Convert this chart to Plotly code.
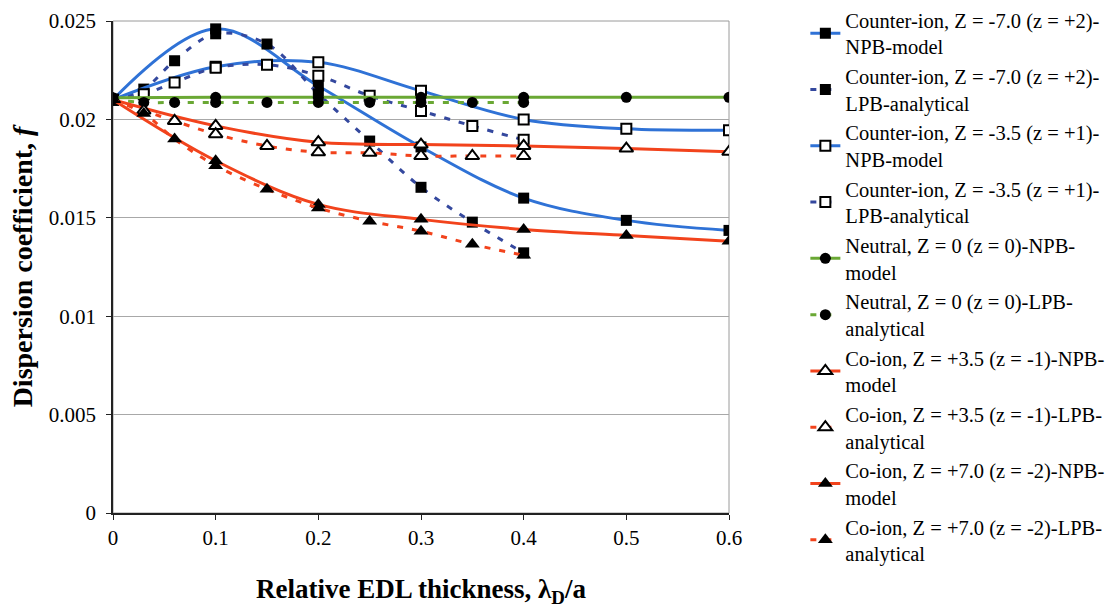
import plotly.graph_objects as go

# Relative EDL thickness values
x_npb = [0, 0.1, 0.2, 0.3, 0.4, 0.5, 0.6]
x_lpb = [0, 0.03, 0.06, 0.1, 0.15, 0.2, 0.25, 0.3, 0.35, 0.4]

# Dispersion coefficient f for each solute charge
counter7_npb = [0.0210, 0.0246, 0.0217, 0.0186, 0.0160, 0.01487, 0.01436]
counter7_lpb = [0.0210, 0.02154, 0.02298, 0.02435, 0.02383, 0.0213, 0.0189, 0.01655, 0.01478, 0.01322]
counter35_npb = [0.0210, 0.02267, 0.0229, 0.02145, 0.0200, 0.01952, 0.01945]
counter35_lpb = [0.0210, 0.02128, 0.02188, 0.02262, 0.02278, 0.02222, 0.0212, 0.02043, 0.01967, 0.01896]
neutral_npb = [0.02110, 0.02112, 0.02112, 0.02112, 0.02112, 0.02112, 0.02112]
neutral_lpb = [0.02100, 0.02086, 0.02086, 0.02086, 0.02086, 0.02086, 0.02086, 0.02086, 0.02086, 0.02086]
co35_npb = [0.0210, 0.01967, 0.01884, 0.01872, 0.01865, 0.01852, 0.01835]
co35_lpb = [0.0210, 0.02045, 0.01992, 0.01925, 0.01865, 0.01833, 0.0183, 0.01814, 0.01814, 0.01814]
co7_npb = [0.0210, 0.0179, 0.01568, 0.01492, 0.01441, 0.0141, 0.01381]
co7_lpb = [0.0210, 0.02030, 0.0190, 0.01765, 0.01645, 0.0155, 0.01483, 0.01432, 0.01365, 0.0131]

x_ticks = [0, 0.1, 0.2, 0.3, 0.4, 0.5, 0.6]
x_tick_text = ["0", "0.1", "0.2", "0.3", "0.4", "0.5", "0.6"]
y_ticks = [0, 0.005, 0.01, 0.015, 0.02, 0.025]
y_tick_text = ["0", "0.005", "0.01", "0.015", "0.02", "0.025"]

BLUE = "#2f72d6"
NAVY = "#34489e"
GREEN = "#6aa834"
RED = "#f2431c"
DASH = "6px,9px"
SERIF = "Liberation Serif"

series = [
    ("Counter-ion, Z = -7.0 (z = +2)-<br>NPB-model", x_npb, counter7_npb, BLUE, "solid", "square"),
    ("Counter-ion, Z = -7.0 (z = +2)-<br>LPB-analytical", x_lpb, counter7_lpb, NAVY, DASH, "square"),
    ("Counter-ion, Z = -3.5 (z = +1)-<br>NPB-model", x_npb, counter35_npb, BLUE, "solid", "square-open"),
    ("Counter-ion, Z = -3.5 (z = +1)-<br>LPB-analytical", x_lpb, counter35_lpb, NAVY, DASH, "square-open"),
    ("Neutral, Z = 0 (z = 0)-NPB-<br>model", x_npb, neutral_npb, GREEN, "solid", "circle"),
    ("Neutral, Z = 0 (z = 0)-LPB-<br>analytical", x_lpb, neutral_lpb, GREEN, DASH, "circle"),
    ("Co-ion, Z = +3.5 (z = -1)-NPB-<br>model", x_npb, co35_npb, RED, "solid", "triangle-up-open"),
    ("Co-ion, Z = +3.5 (z = -1)-LPB-<br>analytical", x_lpb, co35_lpb, RED, DASH, "triangle-up-open"),
    ("Co-ion, Z = +7.0 (z = -2)-NPB-<br>model", x_npb, co7_npb, RED, "solid", "triangle-up"),
    ("Co-ion, Z = +7.0 (z = -2)-LPB-<br>analytical", x_lpb, co7_lpb, RED, DASH, "triangle-up"),
]

marker_sizes = {"square": 11, "circle": 11, "triangle-up": 13}

fig = go.Figure()
for i, (name, xs, ys, color, dash, symbol) in enumerate(series):
    open_marker = symbol.endswith("-open")
    base = symbol.replace("-open", "")
    fig.add_trace(go.Scatter(
        x=xs, y=ys, name=name, mode="lines+markers",
        legendgroup=f"g{i}",
        line=dict(color=color, width=3, dash=dash, shape="spline", smoothing=1.0),
        marker=dict(
            symbol=base,
            size=marker_sizes[base] - (1 if open_marker else 0),
            color="white" if open_marker else "black",
            line=dict(color="black", width=2 if open_marker else 0),
        ),
    ))

# Plot area frame (top and right sides)
fig.add_shape(type="rect", xref="paper", yref="paper", x0=0, y0=0, x1=1, y1=1,
              line=dict(color="#9a9a9a", width=1), layer="below")

fig.update_layout(
    width=1117, height=608,
    margin=dict(l=113, r=388, t=21, b=95, autoexpand=False),
    paper_bgcolor="white", plot_bgcolor="white",
    font=dict(family=SERIF, size=21, color="black"),
    showlegend=True,
    legend=dict(
        xref="container", yref="container",
        x=0.721, xanchor="left", y=1.011, yanchor="top",
        font=dict(family=SERIF, size=20.5, color="black"),
        tracegroupgap=0, itemwidth=30, maxheight=620,
        bgcolor="rgba(0,0,0,0)",
    ),
    xaxis=dict(
        range=[0, 0.6], tickvals=x_ticks, ticktext=x_tick_text,
        showgrid=False, zeroline=False,
        showline=True, linecolor="#222222", linewidth=1.5,
        ticks="outside", ticklen=5, tickcolor="#222222",
        tickfont=dict(family=SERIF, size=21),
        title=dict(text="<b>Relative EDL thickness, λ<sub>D</sub>/a</b>",
                   font=dict(family=SERIF, size=27), standoff=30),
    ),
    yaxis=dict(
        range=[0, 0.025], tickvals=y_ticks, ticktext=y_tick_text,
        showgrid=True, gridcolor="#a8a8a8", gridwidth=1, zeroline=False,
        showline=True, linecolor="#222222", linewidth=1.5,
        ticks="outside", ticklen=5, tickcolor="#222222",
        ticklabelstandoff=6,
        tickfont=dict(family=SERIF, size=21),
        title=dict(text="<b>Dispersion coefficient, <i>f</i></b>",
                   font=dict(family=SERIF, size=28), standoff=8),
    ),
)

fig.write_html("out.html")
